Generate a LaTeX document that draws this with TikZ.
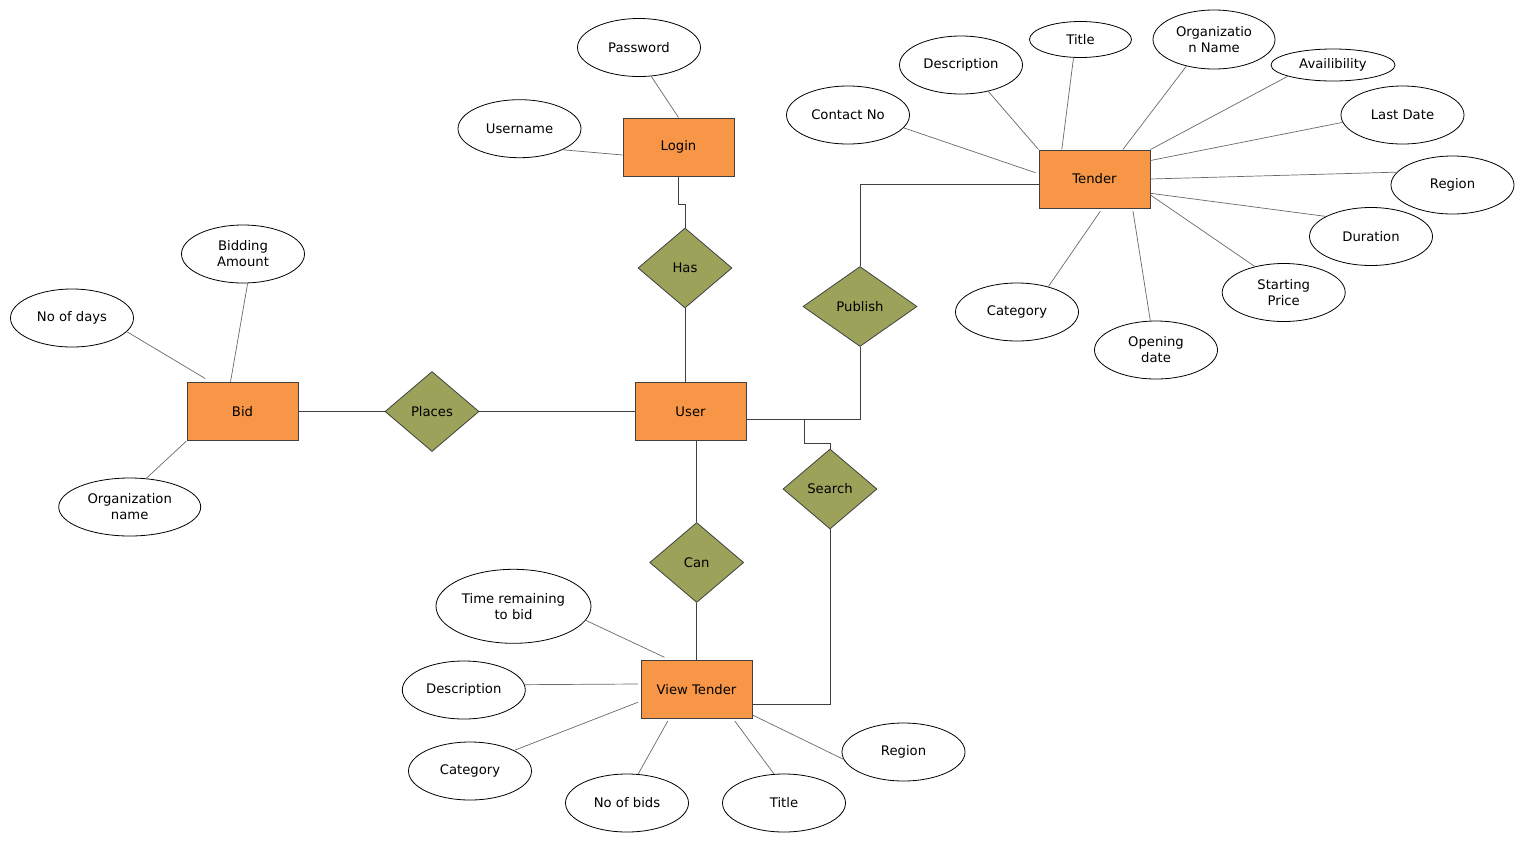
\documentclass[tikz,border=0pt]{standalone}
\usepackage{fontspec}
\setmainfont{DejaVu Sans}
\usetikzlibrary{shapes.geometric}
\definecolor{entityfill}{RGB}{247,150,70}
\definecolor{relfill}{RGB}{156,162,90}
\definecolor{edgegray}{RGB}{64,64,64}
\definecolor{attrline}{RGB}{105,105,105}

\begin{document}
\begin{tikzpicture}[x=1pt,y=-1pt,
  every node/.style={font=\fontsize{13.2}{16}\selectfont, align=center, inner sep=0pt},
  entity/.style={rectangle, draw=edgegray, line width=1pt, fill=entityfill,
    minimum width=111pt, minimum height=58pt},
  relation/.style={diamond, draw=edgegray, line width=0.8pt, fill=relfill,
    minimum width=94pt, minimum height=80pt},
  attribute/.style={ellipse, draw=black, line width=0.8pt, fill=white,
    minimum width=123pt, minimum height=58pt},
  link/.style={draw=edgegray, line width=1pt},
  attrlink/.style={draw=attrline, line width=0.7pt},
]
\fill[white] (0,0) rectangle (1524,847);
\useasboundingbox (0,0) rectangle (1524,847);

% ---------- entities ----------
\node[entity] (login)  at (678.5,147)   {Login};
\node[entity] (tender) at (1094.5,179)  {Tender};
\node[entity] (bid)    at (242.5,411.5) {Bid};
\node[entity] (user)   at (690.5,411.5) {User};
\node[entity] (vt)     at (696.5,689.5) {View Tender};

% ---------- relationships ----------
\node[relation] (has)     at (685,268)     {Has};
\node[relation, minimum width=114pt] (publish) at (860,306.5) {Publish};
\node[relation] (places)  at (432,411.5)   {Places};
\node[relation] (search)  at (830,489)     {Search};
\node[relation] (can)     at (696.7,562.5) {Can};

% ---------- attributes of Login ----------
\node[attribute] (password) at (639,47.5)    {Password};
\node[attribute] (username) at (519.5,128.7) {Username};

% ---------- attributes of Bid ----------
\node[attribute] (bidamt)  at (243,254)     {Bidding\\Amount};
\node[attribute] (nodays)  at (72,318)      {No of days};
\node[attribute, minimum width=142pt] (bidorg) at (129.7,507) {Organization\\name};

% ---------- attributes of Tender ----------
\node[attribute] (contact)   at (848,115)     {Contact No};
\node[attribute] (tdesc)     at (961,65)      {Description};
\node[attribute, minimum width=102pt, minimum height=36pt] (ttitle) at (1080.5,39.5) {Title};
\node[attribute, minimum width=122pt, minimum height=59pt] (torg) at (1214,39.5) {Organizatio\\n Name};
\node[attribute, minimum width=124pt, minimum height=32pt] (avail) at (1333,65) {Availibility};
\node[attribute] (lastdate)  at (1402.5,115)  {Last Date};
\node[attribute] (tregion)   at (1452.5,185)  {Region};
\node[attribute] (duration)  at (1371,236.5)  {Duration};
\node[attribute] (startprice) at (1283.7,292.5) {Starting\\Price};
\node[attribute] (tcat)      at (1017,312)    {Category};
\node[attribute] (opendate)  at (1156,350)    {Opening\\date};

% ---------- attributes of View Tender ----------
\node[attribute, minimum width=155pt, minimum height=74pt] (timeleft) at (513.5,606.3) {Time remaining\\to bid};
\node[attribute] (vdesc)   at (463.8,690) {Description};
\node[attribute] (vcat)    at (470,771)   {Category};
\node[attribute] (nobids)  at (627,803)   {No of bids};
\node[attribute] (vtitle)  at (784,803)   {Title};
\node[attribute] (vregion) at (903.5,752) {Region};

% ---------- attribute links ----------
\path[attrlink] (password.293) -- (login.north);
\path[attrlink] (username.334) -- ([yshift=-8pt]login.west);

\path[attrlink] (nodays.346) -- ([xshift=18.7pt,yshift=3.5pt]bid.north west);
\path[attrlink] (bidamt.279) -- ([xshift=44pt]bid.north west);
\path[attrlink] (bidorg.60)  -- (bid.south west);

\path[attrlink] (contact.347)  -- ([xshift=-3pt,yshift=6.3pt]tender.west);
\path[attrlink] (tdesc.316)    -- (tender.north west);
\path[attrlink] (ttitle.249)   -- ([xshift=23.3pt]tender.north west);
\path[attrlink] (torg.224)     -- ([xshift=84.4pt]tender.north west);
\path[attrlink] (avail.194)    -- (tender.north east);
\path[attrlink] (lastdate.187) -- ([yshift=-11pt]tender.north east);
\path[attrlink] (tregion.167)  -- (tender.east);
\path[attrlink] (duration.156) -- ([yshift=-14.3pt]tender.east);
\path[attrlink] (startprice.138.7) -- ([yshift=-16pt]tender.east);
\path[attrlink] (tcat.39.6)    -- ([xshift=5.8pt,yshift=-2.7pt]tender.south);
\path[attrlink] (opendate.101) -- ([xshift=38.5pt,yshift=-2.7pt]tender.south);

\path[attrlink] (timeleft.349) -- ([xshift=24pt,yshift=2.7pt]vt.north west);
\path[attrlink] (vdesc.5.5)    -- ([xshift=-2.7pt,yshift=5.5pt]vt.west);
\path[attrlink] (vcat.25.5)    -- ([xshift=-2.7pt,yshift=-12.8pt]vt.west);
\path[attrlink] (nobids.69.2)  -- ([xshift=27.3pt,yshift=-2pt]vt.south west);
\path[attrlink] (vtitle.109.9) -- ([xshift=-17.7pt,yshift=-2pt]vt.south east);
\path[attrlink] (vregion.187.2) -- ([yshift=4pt]vt.south east);

% ---------- relationship links ----------
\path[link] (login.south) -- ++(0,28) -| (has.north);
\path[link] (has.south) -- (has.south |- user.north);
\path[link] (bid.east) -- (places.west);
\path[link] (places.east) -- (user.west);
\path[link] ([yshift=-7.8pt]user.east) -| (publish.south);
\path[link] (publish.north) |- ([yshift=-5.3pt]tender.west);
\coordinate (fork) at ([xshift=58pt,yshift=-7.8pt]user.east);
\path[link] (fork) -- ++(0,24) -| (search.north);
\path[link] (search.south) |- ([yshift=-14.5pt]vt.east);
\path[link] (user.south -| can.north) -- (can.north);
\path[link] (can.south) -- (can.south |- vt.north);

\end{tikzpicture}
\end{document}
